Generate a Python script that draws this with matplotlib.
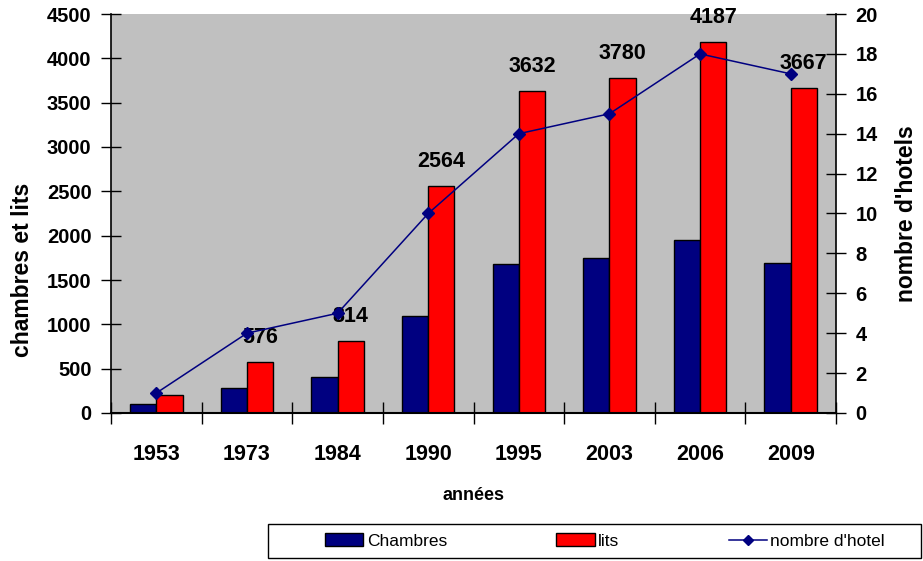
import matplotlib
matplotlib.use("Agg")
import matplotlib.pyplot as plt
import numpy as np
from matplotlib.patches import Patch, Rectangle
from matplotlib.lines import Line2D

plt.rcParams['font.family'] = ['Liberation Sans', 'DejaVu Sans']

years = ['1953', '1973', '1984', '1990', '1995', '2003', '2006', '2009']
chambres = [100, 280, 405, 1095, 1675, 1745, 1955, 1690]
lits = [205, 576, 814, 2564, 3632, 3780, 4187, 3667]
hotels = [1, 4, 5, 10, 14, 15, 18, 17]
label_years = ['1973', '1984', '1990', '1995', '2003', '2006', '2009']

fig = plt.figure(figsize=(9.23, 5.61), dpi=100)
ax = fig.add_axes([111/923, 1-413/561, (836-111)/923, (413-14)/561])
ax.set_facecolor('#C0C0C0')

x = np.arange(len(years))
w = 0.29
ax.bar(x - w/2, chambres, w, color='#000080', edgecolor='black', linewidth=1, zorder=2)
ax.bar(x + w/2, lits, w, color='#FF0000', edgecolor='black', linewidth=1, zorder=2)

for i, (yr, v) in enumerate(zip(years, lits)):
    if yr in label_years:
        ax.annotate(str(v), (x[i] + w/2, v), xytext=(0, 10), textcoords='offset points',
                    ha='center', va='bottom', fontsize=15.5, fontweight='bold', clip_on=False,
                    zorder=6)

ax.set_xlim(-0.5, len(years) - 0.5)
ax.set_ylim(0, 4500)
ax.set_yticks(np.arange(0, 4501, 500))
ax.set_xticks(np.arange(-0.5, len(years), 1))
ax.set_xticklabels([])
ax.set_xticks(x, minor=True)
ax.set_xticklabels(years, minor=True, fontsize=15.5, fontweight='bold')
ax.tick_params(axis='x', which='major', direction='inout', length=16, width=1)
ax.tick_params(axis='x', which='minor', length=0, pad=22)
ax.tick_params(axis='y', direction='inout', length=14, width=1, labelsize=14.5, pad=7)
for lab in ax.get_yticklabels():
    lab.set_fontweight('bold')
ax.set_ylabel('chambres et lits', fontsize=16.5, fontweight='bold', va='center')
ax.yaxis.set_label_coords((23 - 111) / 725, 0.358)
ax.set_xlabel('années', fontsize=13, fontweight='bold', labelpad=16)
ax.spines['top'].set_visible(False)
ax.spines['left'].set_linewidth(1.2)
ax.spines['bottom'].set_linewidth(1.5)
ax.spines['right'].set_visible(False)

ax2 = ax.twinx()
ax2.plot(x, hotels, color='#000080', linewidth=1.1, marker='D', markersize=6, zorder=5)
ax2.set_ylim(0, 20)
ax2.set_yticks(np.arange(0, 21, 2))
ax2.tick_params(axis='y', direction='inout', length=14, width=1, labelsize=14.5, pad=7)
for lab in ax2.get_yticklabels():
    lab.set_fontweight('bold')
ax2.set_ylabel("nombre d'hotels", fontsize=16.5, fontweight='bold', va='center')
ax2.yaxis.set_label_coords((907 - 111) / 725, 0.5)
ax2.spines['top'].set_visible(False)
ax2.spines['left'].set_visible(False)
ax2.spines['bottom'].set_visible(False)
ax2.spines['right'].set_linewidth(1.2)

# legend box
fig.add_artist(Rectangle((268/923, 3/561), 653/923, 34/561, transform=fig.transFigure,
                         facecolor='white', edgecolor='black', linewidth=1))
handles = [Patch(facecolor='#000080', edgecolor='black'),
           Patch(facecolor='#FF0000', edgecolor='black'),
           Line2D([0], [0], color='#000080', marker='D', markersize=5, linewidth=1.1)]
leg = fig.legend(handles, ['Chambres', 'lits', "nombre d'hotel"], ncol=3,
                 loc='center', bbox_to_anchor=(605/923, 1 - 541/561),
                 frameon=False, fontsize=12.5,
                 handlelength=2.2, handleheight=0.8, handletextpad=0.2, columnspacing=6.3,
                 borderaxespad=0)

fig.savefig('out.png', dpi=100)
